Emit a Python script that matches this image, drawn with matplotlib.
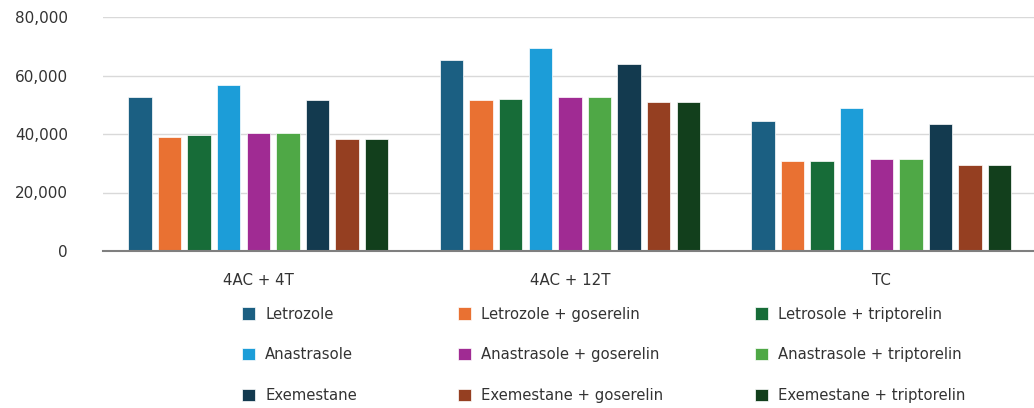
import matplotlib
matplotlib.use("Agg")
import matplotlib.pyplot as plt
import numpy as np
from matplotlib.ticker import FuncFormatter

plt.rcParams['font.family'] = ['DejaVu Sans']

groups = ["4AC + 4T", "4AC + 12T", "TC"]
series = [
    "Letrozole", "Letrozole + goserelin", "Letrosole + triptorelin",
    "Anastrasole", "Anastrasole + goserelin", "Anastrasole + triptorelin",
    "Exemestane", "Exemestane + goserelin", "Exemestane + triptorelin",
]
letrozole = [52800, 65200, 44600]
letrozole_goserelin = [39100, 51600, 30900]
letrozole_triptorelin = [39800, 52100, 30900]
anastrasole = [56900, 69300, 48800]
anastrasole_goserelin = [40400, 52800, 31600]
anastrasole_triptorelin = [40400, 52800, 31600]
exemestane = [51500, 63900, 43400]
exemestane_goserelin = [38400, 50800, 29500]
exemestane_triptorelin = [38400, 50800, 29500]

values = [
    letrozole, letrozole_goserelin, letrozole_triptorelin,
    anastrasole, anastrasole_goserelin, anastrasole_triptorelin,
    exemestane, exemestane_goserelin, exemestane_triptorelin,
]
colors = [
    "#1b5f82", "#e97132", "#176c38",
    "#1c9dd8", "#a02b93", "#4fa846",
    "#133a4f", "#953f21", "#123f1c",
]

fig = plt.figure(figsize=(10.34, 4.08), dpi=100)
ax = fig.add_axes([102.6 / 1034, 1 - 251 / 408, 1 - 102.6 / 1034, (251 - 17) / 408])

x = np.arange(len(groups))
pitch = 0.095
width = 0.075
bars = []
for i, (name, vals, col) in enumerate(zip(series, values, colors)):
    b = ax.bar(x + (i - 4) * pitch, vals, width, color=col, label=name,
               edgecolor="white", linewidth=0.5, zorder=3)
    bars.append(b)

ax.set_xlim(-0.5, 2.49)
ax.set_ylim(0, 80000)
ax.set_yticks([0, 20000, 40000, 60000, 80000])
ax.yaxis.set_major_formatter(FuncFormatter(lambda v, p: f"{int(v):,}"))
ax.set_xticks(x)
ax.set_xticklabels(groups)
ax.tick_params(axis="y", length=0, pad=25, labelsize=11, labelcolor="#333333")
ax.tick_params(axis="x", length=0, pad=16, labelsize=10.8, labelcolor="#333333")
ax.grid(axis="y", color="#d9d9d9", linewidth=1, zorder=0)
ax.set_axisbelow(True)
for s in ["top", "right", "left"]:
    ax.spines[s].set_visible(False)
ax.spines["bottom"].set_color("#7f7f7f")
ax.spines["bottom"].set_linewidth(1.5)
ax.spines["bottom"].set_zorder(4)

# three legend columns, each holding one row-position per drug
col_x = [238 / 1034, 454 / 1034, 751 / 1034]
for c in range(3):
    idx = [c, c + 3, c + 6]
    leg = fig.legend([bars[k] for k in idx], [series[k] for k in idx],
                     loc="upper left", bbox_to_anchor=(col_x[c], 1 - 302.5 / 408),
                     frameon=False, fontsize=10.7, handlelength=0.89,
                     handleheight=0.89, handletextpad=0.67, labelspacing=1.72,
                     borderaxespad=0, borderpad=0.28)
    for t in leg.get_texts():
        t.set_color("#333333")

fig.savefig("out.png", dpi=100)
